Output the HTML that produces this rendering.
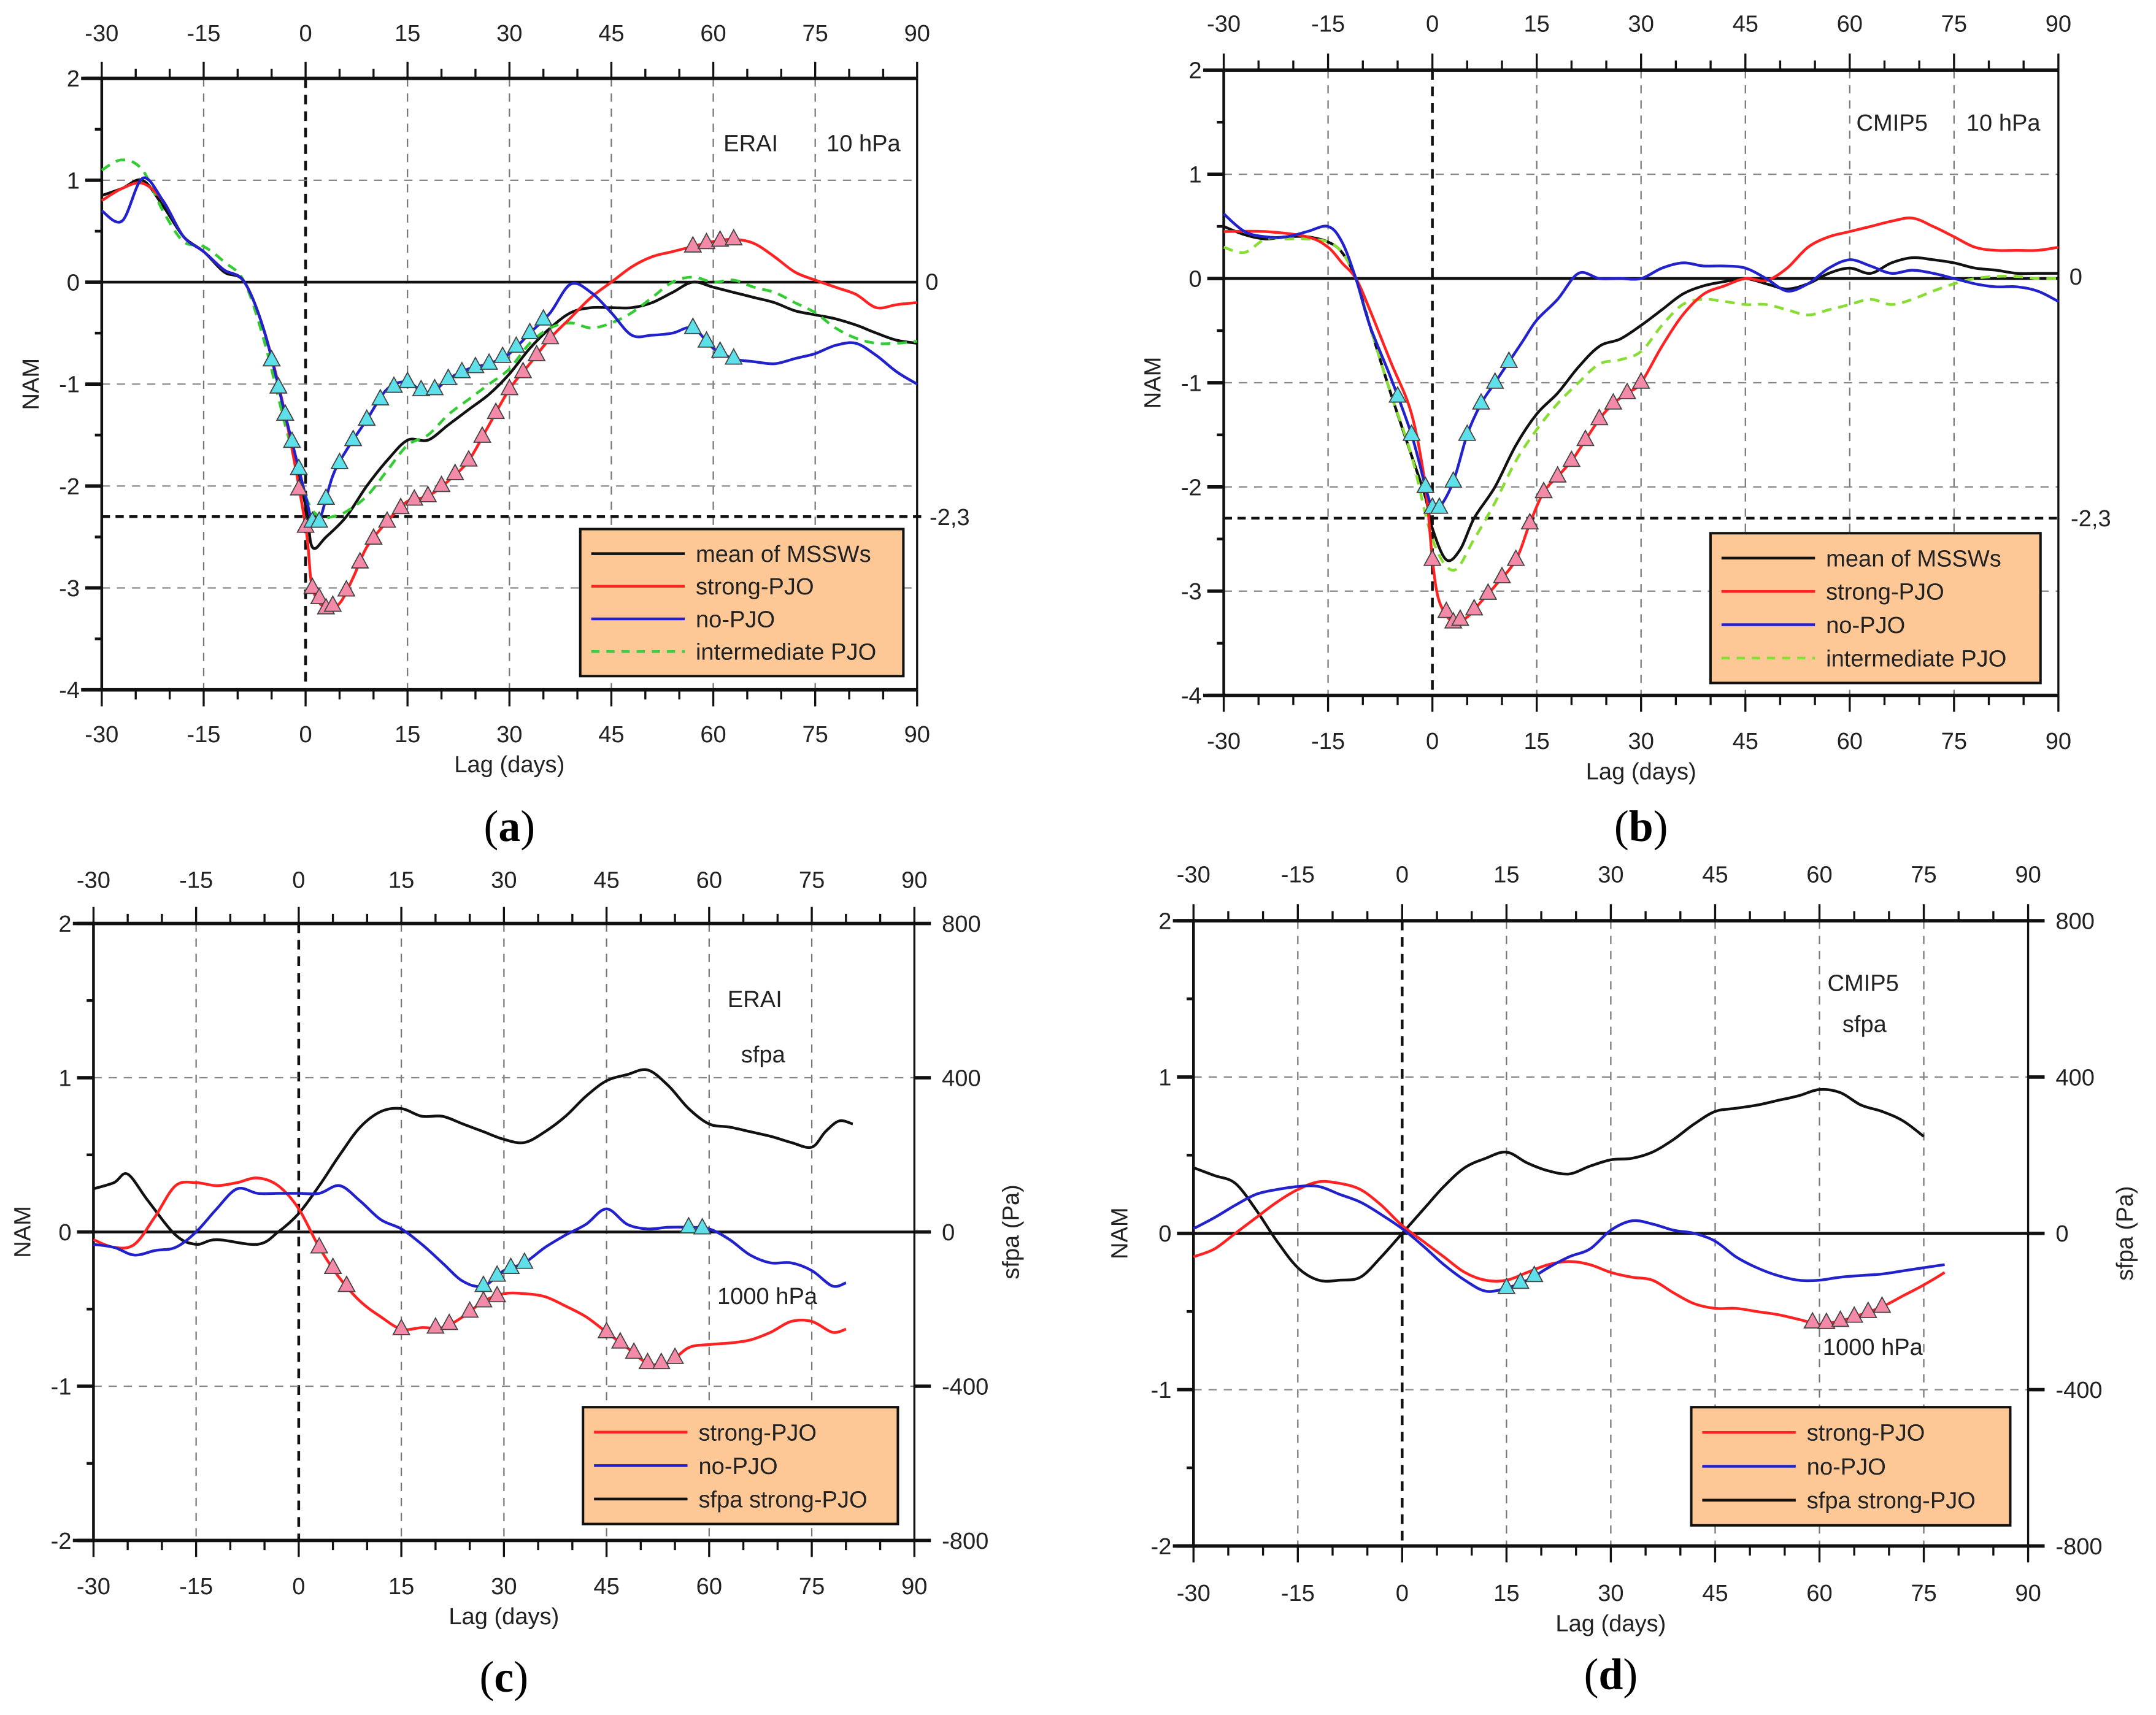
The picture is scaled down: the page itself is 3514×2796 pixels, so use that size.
<!DOCTYPE html>
<html><head><meta charset="utf-8"><style>
html,body{margin:0;padding:0;background:#fff}
svg{display:block}
text{font-family:"Liberation Sans",Arial,sans-serif;fill:#222}
</style></head><body>
<svg id="fig" width="3514" height="2796" viewBox="0 0 1568 1248" preserveAspectRatio="none" xmlns="http://www.w3.org/2000/svg"></svg>
<script>
// ---------- DATA ----------
const xTicks=[-30,-15,0,15,30,45,60,75,90];
// Panel a (ERAI 10 hPa)
const aDays=[-30,-27,-24,-21,-18,-15,-12,-9,-6,-3,0,1,3,6,9,12,15,18,21,24,27,30,33,36,39,42,45,48,51,54,57,60,63,66,69,72,75,78,81,84,87,90];
const aMean=[0.85,0.92,1.0,0.75,0.45,0.3,0.1,0.0,-0.5,-1.3,-2.2,-2.6,-2.5,-2.3,-2.0,-1.75,-1.55,-1.55,-1.4,-1.25,-1.1,-0.9,-0.65,-0.45,-0.3,-0.25,-0.25,-0.25,-0.2,-0.1,0.0,-0.05,-0.1,-0.15,-0.2,-0.28,-0.32,-0.36,-0.42,-0.5,-0.57,-0.6];
const aRedDays=[-30,-27,-24,-21,-18,-15,-12,-9,-6,-3,0,1,3,5,7,9,12,15,18,21,24,27,30,33,36,39,42,45,48,51,54,57,60,63,66,69,72,75,78,81,84,87,90];
const aRed=[0.8,0.92,0.97,0.8,0.45,0.3,0.12,0.0,-0.5,-1.3,-2.4,-3.0,-3.2,-3.15,-2.9,-2.6,-2.35,-2.15,-2.1,-1.95,-1.75,-1.4,-1.05,-0.8,-0.55,-0.35,-0.15,0.0,0.15,0.25,0.3,0.35,0.4,0.42,0.38,0.25,0.1,0.02,-0.05,-0.12,-0.25,-0.22,-0.2];
const aBlueDays=[-30,-27,-24,-21,-18,-15,-12,-9,-6,-3,0,1,2,4,6,9,12,15,18,21,24,27,30,33,36,39,42,45,48,51,54,57,60,63,66,69,72,75,78,81,84,87,90];
const aBlue=[0.7,0.6,1.02,0.8,0.45,0.3,0.12,0.0,-0.5,-1.3,-2.1,-2.35,-2.35,-1.9,-1.65,-1.35,-1.05,-0.98,-1.1,-0.95,-0.85,-0.8,-0.7,-0.5,-0.3,-0.02,-0.1,-0.3,-0.52,-0.52,-0.5,-0.45,-0.65,-0.75,-0.78,-0.8,-0.75,-0.7,-0.62,-0.6,-0.72,-0.88,-1.0];
const aGreenDays=[-30,-27,-24,-21,-18,-15,-12,-9,-6,-3,0,2,4,6,9,12,15,18,21,24,27,30,33,36,39,42,45,48,51,54,57,60,63,66,69,72,75,78,81,84,87,90];
const aGreen=[1.1,1.2,1.1,0.7,0.4,0.35,0.2,0.0,-0.6,-1.4,-2.1,-2.3,-2.3,-2.25,-2.1,-1.85,-1.6,-1.5,-1.3,-1.15,-1.0,-0.85,-0.6,-0.45,-0.4,-0.45,-0.4,-0.3,-0.15,0.0,0.05,0.0,0.02,-0.05,-0.1,-0.2,-0.3,-0.45,-0.55,-0.6,-0.6,-0.58];
const aTriBlue=[-5,-4,-3,-2,-1,1,2,3,5,7,9,11,13,15,17,19,21,23,25,27,29,31,33,35,57,59,61,63];
const aTriRed=[-5,-4,-3,-1,0,1,2,3,4,6,8,10,12,14,16,18,20,22,24,26,28,30,32,34,36,57,59,61,63];
// Panel b (CMIP5 10 hPa)
const bDays=[-30,-27,-24,-21,-18,-15,-13,-11,-9,-6,-3,-1,0,2,4,6,9,12,15,18,21,24,27,30,33,36,39,42,45,48,51,54,57,60,63,66,69,72,75,78,81,84,87,90];
const bMean=[0.5,0.42,0.38,0.4,0.4,0.35,0.25,0.0,-0.45,-1.1,-1.7,-2.1,-2.4,-2.7,-2.6,-2.3,-2.0,-1.6,-1.3,-1.1,-0.85,-0.65,-0.58,-0.45,-0.3,-0.15,-0.07,-0.03,0.0,-0.05,-0.1,-0.05,0.05,0.1,0.05,0.15,0.2,0.18,0.15,0.1,0.08,0.05,0.05,0.05];
const bRedDays=[-30,-24,-18,-15,-13,-11,-9,-6,-3,-1,0,1,3,5,7,9,12,14,16,18,20,22,24,26,28,30,33,36,39,42,45,48,51,54,57,60,63,66,69,72,75,78,81,84,87,90];
const bRed=[0.45,0.45,0.4,0.3,0.15,0.0,-0.3,-0.8,-1.3,-2.0,-2.7,-3.1,-3.3,-3.25,-3.1,-2.95,-2.7,-2.35,-2.05,-1.9,-1.75,-1.55,-1.35,-1.2,-1.1,-1.0,-0.65,-0.35,-0.15,-0.07,0.0,-0.02,0.1,0.3,0.4,0.45,0.5,0.55,0.58,0.5,0.4,0.3,0.27,0.27,0.27,0.3];
const bBlueDays=[-30,-27,-24,-21,-18,-15,-13,-11,-9,-6,-3,-1,0,1,3,5,7,9,11,13,15,18,21,24,27,30,33,36,39,42,45,48,51,54,57,60,63,66,69,72,75,78,81,84,87,90];
const bBlue=[0.62,0.45,0.4,0.4,0.45,0.5,0.35,0.0,-0.45,-0.95,-1.5,-2.0,-2.2,-2.2,-1.95,-1.5,-1.2,-1.0,-0.8,-0.6,-0.4,-0.2,0.05,0.0,0.0,0.0,0.1,0.15,0.12,0.12,0.1,0.0,-0.12,-0.05,0.1,0.18,0.12,0.05,0.08,0.05,0.0,-0.05,-0.08,-0.08,-0.12,-0.22];
const bGreenDays=[-30,-27,-24,-21,-18,-15,-13,-11,-9,-6,-3,0,3,6,9,12,15,18,21,24,27,30,33,36,39,42,45,48,51,54,57,60,63,66,69,72,75,78,81,84,87,90];
const bGreen=[0.3,0.25,0.38,0.38,0.38,0.35,0.25,0.0,-0.45,-1.1,-1.7,-2.5,-2.8,-2.5,-2.15,-1.75,-1.45,-1.2,-1.0,-0.82,-0.78,-0.7,-0.45,-0.25,-0.2,-0.22,-0.25,-0.25,-0.3,-0.35,-0.3,-0.25,-0.2,-0.25,-0.2,-0.12,-0.05,0.0,0.02,0.02,0.0,0.0];
const bTriBlue=[-5,-3,-1,0,1,3,5,7,9,11];
const bTriRed=[-1,0,2,3,4,6,8,10,12,14,16,18,20,22,24,26,28,30];
// Panel c (ERAI sfpa / 1000 hPa)
const cDays=[-30,-27,-24,-21,-18,-15,-12,-9,-6,-3,0,3,6,9,12,15,18,21,24,27,30,33,36,39,42,45,48,51,54,57,60,63,66,69,72,75,78,80];
const cRed=[-0.05,-0.1,-0.08,0.1,0.3,0.32,0.3,0.32,0.35,0.3,0.15,-0.1,-0.3,-0.45,-0.55,-0.63,-0.62,-0.62,-0.55,-0.45,-0.4,-0.4,-0.42,-0.48,-0.55,-0.65,-0.75,-0.85,-0.85,-0.75,-0.73,-0.72,-0.7,-0.65,-0.58,-0.58,-0.65,-0.63];
const cBlue=[-0.08,-0.1,-0.15,-0.12,-0.1,0.0,0.15,0.28,0.25,0.25,0.25,0.25,0.3,0.2,0.08,0.02,-0.08,-0.2,-0.32,-0.35,-0.25,-0.2,-0.1,-0.02,0.05,0.15,0.05,0.02,0.03,0.03,0.02,-0.05,-0.15,-0.2,-0.2,-0.25,-0.35,-0.33];
const cSfpaDays=[-30,-27,-25,-22,-18,-15,-12,-6,-3,0,3,6,9,12,15,18,21,24,27,30,33,36,39,42,45,48,51,54,57,60,63,66,69,72,75,77,79,81];
const cSfpa=[112,128,150,80,-8,-32,-20,-32,0,48,120,200,272,312,320,300,300,280,260,240,232,260,300,352,392,408,420,380,320,280,272,260,248,232,220,260,288,280];
const cTriRed=[3,5,7,15,20,22,25,27,29,45,47,49,51,53,55];
const cTriBlue=[27,29,31,33,57,59];
// Panel d (CMIP5 sfpa / 1000 hPa)
const dDays=[-30,-27,-24,-21,-18,-15,-12,-9,-6,-3,0,3,6,9,12,15,18,21,24,27,30,33,36,39,42,45,48,51,54,57,60,63,66,69,72,75,78];
const dRed=[-0.15,-0.1,0.0,0.1,0.2,0.28,0.33,0.32,0.28,0.18,0.05,-0.05,-0.15,-0.25,-0.3,-0.3,-0.25,-0.2,-0.18,-0.2,-0.25,-0.28,-0.3,-0.38,-0.45,-0.48,-0.48,-0.5,-0.52,-0.55,-0.58,-0.56,-0.52,-0.47,-0.4,-0.33,-0.25];
const dBlue=[0.03,0.1,0.18,0.25,0.28,0.3,0.3,0.25,0.2,0.12,0.03,-0.08,-0.2,-0.3,-0.37,-0.35,-0.3,-0.22,-0.15,-0.1,0.02,0.08,0.06,0.02,0.0,-0.05,-0.15,-0.22,-0.27,-0.3,-0.3,-0.28,-0.27,-0.26,-0.24,-0.22,-0.2];
const dSfpaDays=[-30,-27,-24,-21,-18,-15,-12,-9,-6,-3,0,3,6,9,12,15,18,21,24,27,30,33,36,39,42,45,48,51,54,57,60,63,66,69,72,75];
const dSfpa=[168,148,128,60,-20,-88,-120,-120,-112,-60,0,60,120,168,192,208,180,160,152,172,188,192,208,240,280,312,320,328,340,352,368,360,328,312,288,248];
const dTriBlue=[15,17,19];
const dTriRed=[59,61,63,65,67,69];

// ---------- DRAW ----------
const NS='http://www.w3.org/2000/svg';
const svg=document.getElementById('fig');
function mk(tag,attrs,parent,txt){const e=document.createElementNS(NS,tag);for(const k in attrs)e.setAttribute(k,attrs[k]);if(txt!==undefined)e.textContent=txt;(parent||svg).appendChild(e);return e;}
function interp(xs,ys,x){for(let i=0;i<xs.length-1;i++){if(x>=xs[i]&&x<=xs[i+1]){const t=(x-xs[i])/(xs[i+1]-xs[i]);return ys[i]+t*(ys[i+1]-ys[i]);}}return ys[ys.length-1];}
function smoothPath(P){let d='M'+P[0][0].toFixed(1)+','+P[0][1].toFixed(1);
  for(let i=0;i<P.length-1;i++){const p0=P[i-1]||P[i],p1=P[i],p2=P[i+1],p3=P[i+2]||p2;
    const c1=[p1[0]+(p2[0]-p0[0])/6,p1[1]+(p2[1]-p0[1])/6],c2=[p2[0]-(p3[0]-p1[0])/6,p2[1]-(p3[1]-p1[1])/6];
    d+=` C${c1[0].toFixed(1)},${c1[1].toFixed(1)} ${c2[0].toFixed(1)},${c2[1].toFixed(1)} ${p2[0].toFixed(1)},${p2[1].toFixed(1)}`;}
  return d;}

function panel(P){
  const g=mk('g',{});
  
  
  const X=d=>P.L+(d+30)/120*(P.R-P.L);
  const Y=v=>P.T+(P.ymax-v)/(P.ymax-P.ymin)*(P.B-P.T);
  for(const t of xTicks){ if(t===-30||t===90)continue;
    const l=mk('line',{x1:X(t),x2:X(t),y1:P.T,y2:P.B,stroke:t===0?'#111':'#777','stroke-width':t===0?2:1,'stroke-dasharray':t===0?'7,5':'6,5'},g);
    
    
  }
  for(let v=P.ymin+1;v<P.ymax;v++){
    const l=mk('line',{x1:P.L,x2:P.R,y1:Y(v),y2:Y(v),stroke:v===0?'#111':'#888','stroke-width':v===0?2:1,'stroke-dasharray':v===0?'none':'6,5'},g);
    
    
  }
  if(P.thr!==undefined){
    const l=mk('line',{x1:P.L,x2:P.R+3,y1:Y(P.thr),y2:Y(P.thr),stroke:'#111','stroke-width':2,'stroke-dasharray':'6,4'},g);
    
    
  }
  mk('line',{x1:P.L-15,x2:P.R,y1:P.T,y2:P.T,stroke:'#111','stroke-width':2.5},g);
  mk('line',{x1:P.L-15,x2:P.R,y1:P.B,y2:P.B,stroke:'#111','stroke-width':2.5},g);
  mk('line',{x1:P.L,x2:P.L,y1:P.T,y2:P.B,stroke:'#111','stroke-width':2},g);
  mk('line',{x1:P.R,x2:P.R,y1:P.T,y2:P.B,stroke:'#111','stroke-width':1.5},g);
  for(let d=-30;d<=90;d+=5){const maj=d%15===0;
    mk('line',{x1:X(d),x2:X(d),y1:P.T,y2:P.T-(maj?12:7),stroke:'#111','stroke-width':1.5},g);
    mk('line',{x1:X(d),x2:X(d),y1:P.B,y2:P.B+(maj?12:7),stroke:'#111','stroke-width':1.5},g);}
  for(const t of xTicks){
    const a=mk('text',{x:X(t),y:P.topLab,'font-size':17,'text-anchor':'middle'},g,t);
    
    const b=mk('text',{x:X(t),y:P.botLab,'font-size':17,'text-anchor':'middle'},g,t);
    
  }
  for(let v=P.ymin;v<=P.ymax;v+=0.5){const maj=Number.isInteger(v);
    mk('line',{x1:P.L,x2:P.L-(maj?12:5),y1:Y(v),y2:Y(v),stroke:'#111','stroke-width':maj?2.5:2},g);
    if(P.sfpa) mk('line',{x1:P.R,x2:P.R+(maj?12:0),y1:Y(v),y2:Y(v),stroke:'#111','stroke-width':2.5},g);
    if(maj){const t=mk('text',{x:P.L-16,y:Y(v)+6,'font-size':17,'text-anchor':'end'},g,v);
      
      if(P.sfpa){const r=mk('text',{x:P.R+20,y:Y(v)+6,'font-size':17},g,v*400);
        }}
  }
  const xl=mk('text',{x:(P.L+P.R)/2,y:P.botLab+22,'font-size':17,'text-anchor':'middle'},g,'Lag (days)');
  
  const yl=mk('text',{x:0,y:0,'font-size':17,'text-anchor':'middle',transform:`translate(${P.namX},${(P.T+P.B)/2}) rotate(-90)`},g,'NAM');
  
  if(P.sfpa){const s=mk('text',{x:0,y:0,'font-size':17,'text-anchor':'middle',transform:`translate(${P.R+76},${(P.T+P.B)/2}) rotate(-90)`},g,'sfpa (Pa)');
    }
  const cap=mk('text',{x:(P.L+P.R)/2,y:P.capY,'text-anchor':'middle',style:'font-family:"Liberation Serif",serif;font-size:32px;fill:#000'},g);
  
  mk('tspan',{},cap,'(');mk('tspan',{style:'font-weight:bold'},cap,P.id);mk('tspan',{},cap,')');
  for(const a of P.annot){const t=mk('text',{x:a[1],y:a[2],'font-size':17,'text-anchor':a[3]||'start'},g,a[0]);
    }
  for(const s of P.series){
    const pts=s.d.map((d,i)=>[X(d),Y(s.v[i])]);
    const pl=mk('path',{d:smoothPath(pts),fill:'none',stroke:s.c,'stroke-width':2,'stroke-linejoin':'round','stroke-dasharray':s.dash||'none'},g);
    
  }
  for(const tr of P.tris){
    for(const d of tr.days){const cx=X(d),cy=Y(interp(tr.sd,tr.sv,d));
      const p=mk('polygon',{points:`${cx},${cy-7} ${cx-6},${cy+4} ${cx+6},${cy+4}`,fill:tr.fill,stroke:'#444','stroke-width':0.8},g);
      }
  }
  const Lg=P.leg;
  const lg=mk('g',{},g);
  
  mk('rect',{x:Lg.x,y:Lg.y,width:Lg.w,height:Lg.h,fill:'#fdc896',stroke:'#111','stroke-width':1.8},lg);
  const n=Lg.items.length,step=(Lg.h-12)/n;
  Lg.items.forEach((it,i)=>{const yy=Lg.y+6+step*(i+0.5);
    mk('line',{x1:Lg.x+8,x2:Lg.x+76,y1:yy,y2:yy,stroke:it[1],'stroke-width':2,'stroke-dasharray':it[2]||'none'},lg);
    const t=mk('text',{x:Lg.x+84,y:yy+6,'font-size':17},lg,it[0]);
    });
}
const legA=[['mean of MSSWs','#111'],['strong-PJO','#f22'],['no-PJO','#22c'],['intermediate PJO','#4c4','6,5']];
const legB=[['mean of MSSWs','#111'],['strong-PJO','#f22'],['no-PJO','#22c'],['intermediate PJO','#8d3','6,5']];
const legC=[['strong-PJO','#f22'],['no-PJO','#22c'],['sfpa strong-PJO','#111']];
panel({id:'a',L:74,R:667,T:57,B:502,ymin:-4,ymax:2,thr:-2.3,topLab:30,botLab:540,capY:612,namX:28,
  annot:[['ERAI',546,110,'middle'],['10 hPa',628,110,'middle'],['0',673,211],['-2,3',676,382]],
  series:[{name:'mean-mssw-line',d:aDays,v:aMean,c:'#111'},{name:'intermediate-pjo-line',d:aGreenDays,v:aGreen,c:'#3c3',dash:'7,5'},
    {name:'strong-pjo-line',d:aRedDays,v:aRed,c:'#f22'},{name:'no-pjo-line',d:aBlueDays,v:aBlue,c:'#22c'}],
  tris:[{days:aTriRed,sd:aRedDays,sv:aRed,fill:'#f48aa8'},{days:aTriBlue,sd:aBlueDays,sv:aBlue,fill:'#5ee0ea'}],
  leg:{x:422,y:385,w:235,h:107,items:legA}});
panel({id:'b',L:890,R:1497,T:51,B:506,ymin:-4,ymax:2,thr:-2.3,topLab:23,botLab:545,capY:612,namX:844,
  annot:[['CMIP5',1376,95,'middle'],['10 hPa',1457,95,'middle'],['0',1505,207],['-2,3',1506,383]],
  series:[{name:'mean-mssw-line',d:bDays,v:bMean,c:'#111'},{name:'intermediate-pjo-line',d:bGreenDays,v:bGreen,c:'#8d3',dash:'7,5'},
    {name:'strong-pjo-line',d:bRedDays,v:bRed,c:'#f22'},{name:'no-pjo-line',d:bBlueDays,v:bBlue,c:'#22c'}],
  tris:[{days:bTriRed,sd:bRedDays,sv:bRed,fill:'#f48aa8'},{days:bTriBlue,sd:bBlueDays,sv:bBlue,fill:'#5ee0ea'}],
  leg:{x:1244,y:388,w:240,h:109,items:legB}});
panel({id:'c',L:68,R:665,T:672,B:1121,ymin:-2,ymax:2,sfpa:true,topLab:646,botLab:1160,capY:1231,namX:22,
  annot:[['ERAI',549,733,'middle'],['sfpa',555,773,'middle'],['1000 hPa',558,949,'middle']],
  series:[{name:'sfpa-strong-pjo-line',d:cSfpaDays,v:cSfpa.map(p=>p/400),c:'#111'},{name:'strong-pjo-line',d:cDays,v:cRed,c:'#f22'},{name:'no-pjo-line',d:cDays,v:cBlue,c:'#22c'}],
  tris:[{days:cTriRed,sd:cDays,sv:cRed,fill:'#f48aa8'},{days:cTriBlue,sd:cDays,sv:cBlue,fill:'#5ee0ea'}],
  leg:{x:424,y:1024,w:229,h:85,items:legC}});
panel({id:'d',L:868,R:1475,T:670,B:1125,ymin:-2,ymax:2,sfpa:true,topLab:642,botLab:1165,capY:1229,namX:820,
  annot:[['CMIP5',1355,721,'middle'],['sfpa',1356,751,'middle'],['1000 hPa',1362,986,'middle']],
  series:[{name:'sfpa-strong-pjo-line',d:dSfpaDays,v:dSfpa.map(p=>p/400),c:'#111'},{name:'strong-pjo-line',d:dDays,v:dRed,c:'#f22'},{name:'no-pjo-line',d:dDays,v:dBlue,c:'#22c'}],
  tris:[{days:dTriRed,sd:dDays,sv:dRed,fill:'#f48aa8'},{days:dTriBlue,sd:dDays,sv:dBlue,fill:'#5ee0ea'}],
  leg:{x:1230,y:1024,w:232,h:86,items:legC}});
</script>
</body></html>
